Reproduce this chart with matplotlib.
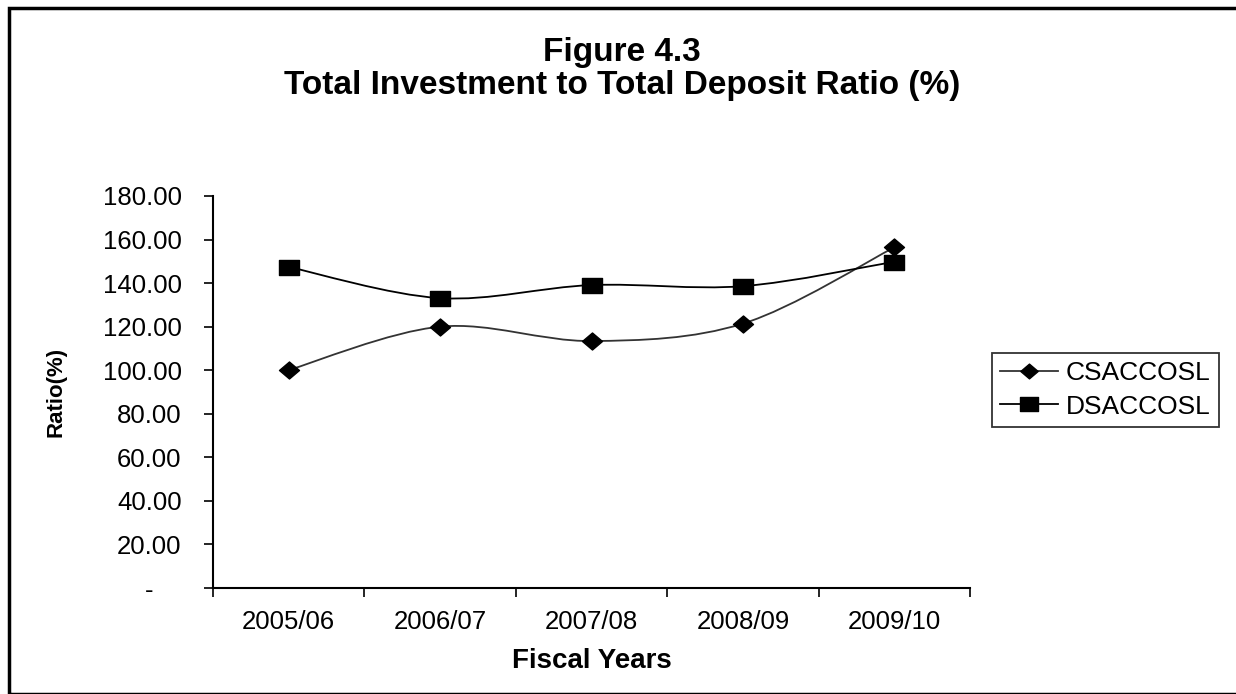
import matplotlib
matplotlib.use("Agg")
import matplotlib.pyplot as plt
from matplotlib.path import Path
from matplotlib.patches import PathPatch, Rectangle
from matplotlib.lines import Line2D
import numpy as np

# ---- data ----
years = ["2005/06", "2006/07", "2007/08", "2008/09", "2009/10"]
csaccosl = [100.1, 120.0, 113.4, 121.4, 156.4]
dsaccosl = [147.4, 133.1, 139.1, 138.6, 149.8]
series_names = ["CSACCOSL", "DSACCOSL"]
yticks = [0, 20, 40, 60, 80, 100, 120, 140, 160, 180]

plt.rcParams['font.family'] = ['Liberation Sans', 'DejaVu Sans']

W, H = 1236, 694
fig = plt.figure(figsize=(W / 100, H / 100), dpi=100)
ax = fig.add_axes([213 / W, 1 - 588 / H, (970 - 213) / W, (588 - 196) / H])

# custom markers (slightly wide, like reference)
sq = Path([(-1, -0.75), (1, -0.75), (1, 0.75), (-1, 0.75), (-1, -0.75)],
          [Path.MOVETO, Path.LINETO, Path.LINETO, Path.LINETO, Path.CLOSEPOLY])
dm = Path([(0, 0.85), (1, 0), (0, -0.85), (-1, 0), (0, 0.85)],
          [Path.MOVETO, Path.LINETO, Path.LINETO, Path.LINETO, Path.CLOSEPOLY])


def smooth_patch(xs, ys, color, lw):
    pts = np.column_stack([xs, ys]).astype(float)
    n = len(pts)
    verts = [tuple(pts[0])]
    codes = [Path.MOVETO]
    for i in range(n - 1):
        p0 = pts[i - 1] if i > 0 else pts[i]
        p1 = pts[i]
        p2 = pts[i + 1]
        p3 = pts[i + 2] if i + 2 < n else pts[i + 1]
        c1 = p1 + (p2 - p0) / 6.0
        c2 = p2 - (p3 - p1) / 6.0
        verts += [tuple(c1), tuple(c2), tuple(p2)]
        codes += [Path.CURVE4] * 3
    return PathPatch(Path(verts, codes), facecolor='none', edgecolor=color,
                     lw=lw, transform=ax.transData, zorder=2)


x = np.arange(len(years))
ax.add_patch(smooth_patch(x, csaccosl, '#333333', 1.3))
ax.add_patch(smooth_patch(x, dsaccosl, '#000000', 1.3))
ax.plot(x, csaccosl, linestyle='none', marker=dm, markersize=14.4,
        color='black', zorder=3)
ax.plot(x, dsaccosl, linestyle='none', marker=sq, markersize=14.4,
        color='black', zorder=3)

ax.set_xlim(-0.5, len(years) - 0.5)
ax.set_ylim(0, 180)

# y ticks
ax.set_yticks(yticks)
ylabels = ["-    " if v == 0 else f"{v:.2f}" for v in yticks]
ax.set_yticklabels(ylabels)
ax.tick_params(axis='y', direction='out', length=6.5, width=1.2,
               labelsize=18.5, pad=16, colors='black')

# x ticks: boundaries as major ticks, labels on minor
ax.set_xticks(np.arange(-0.5, len(years), 1.0))
ax.set_xticklabels([])
ax.set_xticks(x, minor=True)
ax.set_xticklabels(years, minor=True)
ax.tick_params(axis='x', which='major', direction='out', length=6.5, width=1.2)
ax.tick_params(axis='x', which='minor', length=0, labelsize=18.5, pad=16)

for s in ['top', 'right']:
    ax.spines[s].set_visible(False)
for s in ['left', 'bottom']:
    ax.spines[s].set_linewidth(1.5)
    ax.spines[s].set_color('black')

ax.set_ylabel("Ratio(%)", fontsize=16, fontweight='bold')
ax.yaxis.set_label_coords(-(213 - 67) / 757, 0.5)
ax.set_xlabel("Fiscal Years", fontsize=20, fontweight='bold')
ax.xaxis.set_label_coords(0.5, -(668 - 588) / 392)
ax.xaxis.label.set_va('baseline')

title_x = 622 / W
fig.text(title_x, 1 - 61 / H, "Figure 4.3", ha='center', va='baseline',
         fontsize=24, fontweight='bold')
fig.text(title_x, 1 - 94 / H, "Total Investment to Total Deposit Ratio (%)",
         ha='center', va='baseline', fontsize=24, fontweight='bold')

handles = [
    Line2D([], [], color='#333333', lw=1.3, marker=dm, markersize=12.5,
           markerfacecolor='black', markeredgecolor='black'),
    Line2D([], [], color='black', lw=1.3, marker=sq, markersize=12.5,
           markerfacecolor='black', markeredgecolor='black'),
]
leg = fig.legend(handles, series_names, loc='center left',
                 bbox_to_anchor=(992 / W, 1 - 390 / H), fontsize=19,
                 frameon=True, fancybox=False, edgecolor='black',
                 handlelength=2.2, handletextpad=0.3, borderpad=0.3,
                 labelspacing=0.35, borderaxespad=0)
leg.get_frame().set_linewidth(1.3)

# outer border
fig.patches.append(Rectangle((9 / W, 0), 2, 1 - 8 / H, transform=fig.transFigure,
                             fill=False, edgecolor='black', lw=2.5))

fig.savefig("out.png", dpi=100)
